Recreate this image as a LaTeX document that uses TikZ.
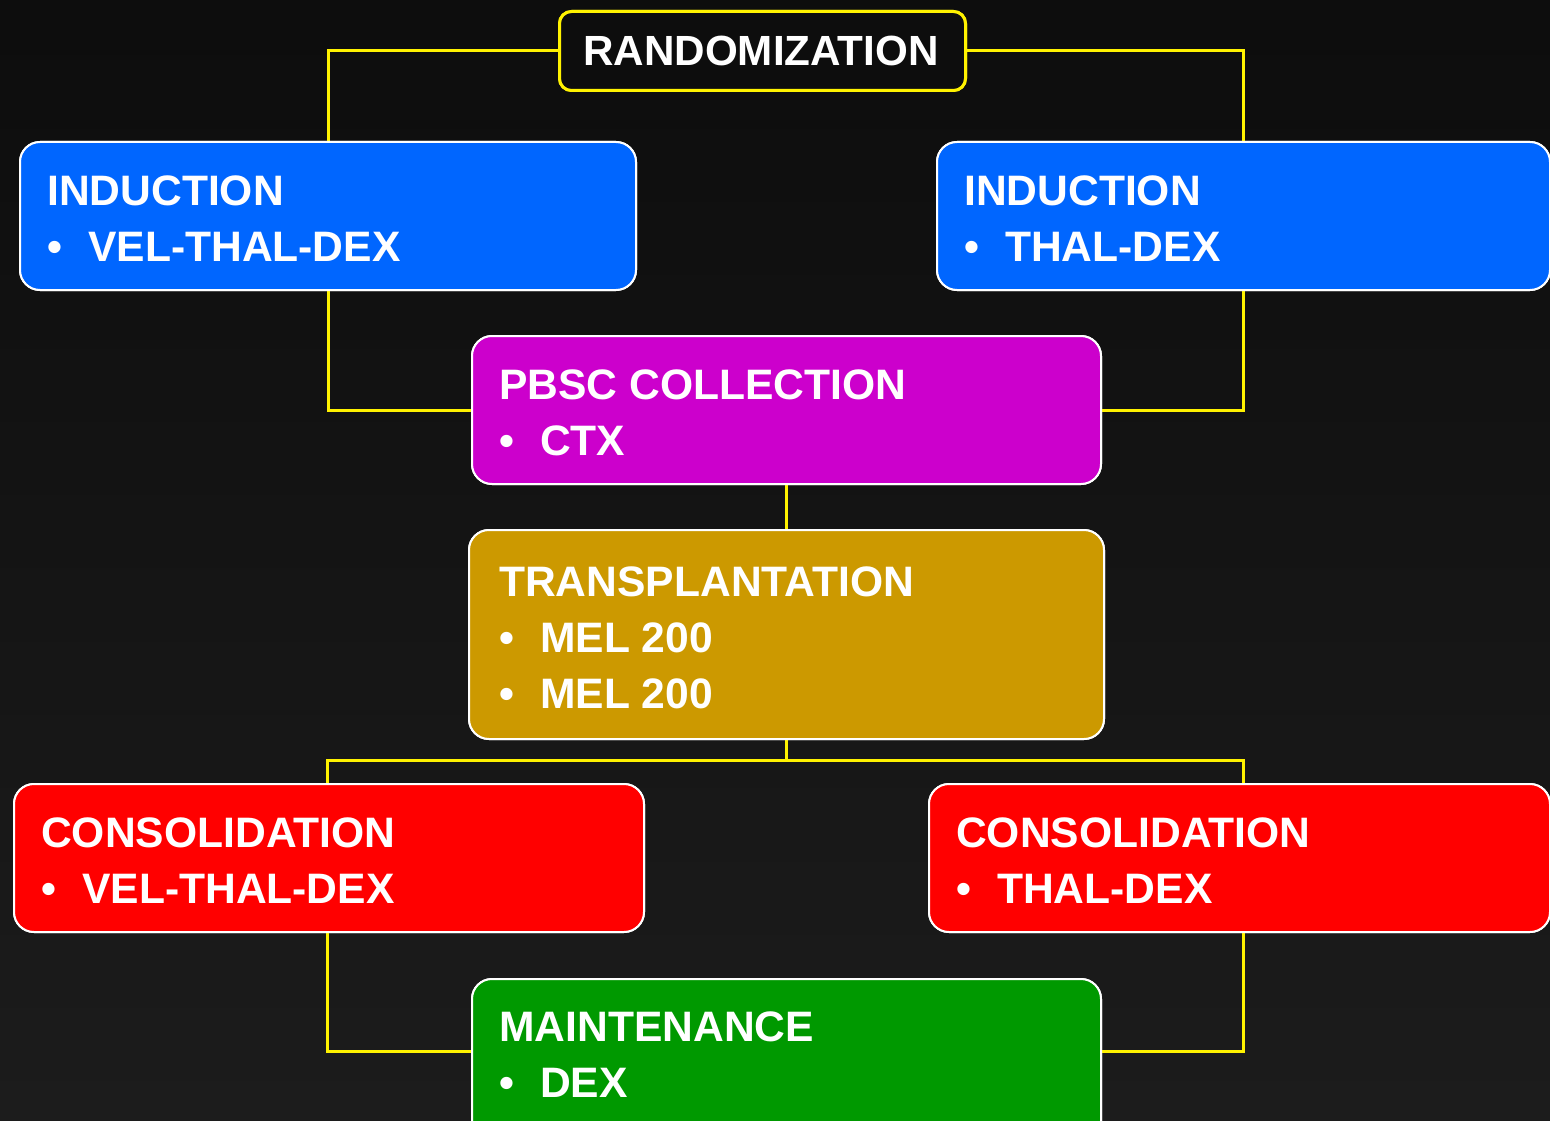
\documentclass[tikz,border=0pt]{standalone}
\usepackage{fontspec}
\setmainfont{Liberation Sans}
\begin{document}
\begin{tikzpicture}[x=1pt,y=-1pt,
  box/.style={draw=white,line width=2pt,rounded corners=20pt,anchor=north west,inner sep=0pt},
  lbl/.style={anchor=base west,inner sep=0pt,text=white,font=\fontsize{42.6}{50}\bfseries\selectfont},
  conn/.style={draw=yellow,line width=3pt}]
\clip (0,0) rectangle (1550,1121);
\shade[top color=black!95,bottom color=black!89] (0,0) rectangle (1550,1121);
\newcommand{\bul}[1]{\makebox[41pt][l]{\textbullet}#1}
\coordinate (jl) at (327,760);
\coordinate (jr) at (1243,760);
\coordinate (mlev) at (0,1051);
% boxes (for anchors)
\node[box,draw=yellow,line width=3pt,rounded corners=12pt,fill=black!95,minimum width=406pt,minimum height=79pt] (rand) at (558,10) {};
\node[box,fill={rgb,255:red,0;green,102;blue,255},minimum width=616pt,minimum height=148pt] (indl) at (19,141) {};
\node[box,fill={rgb,255:red,0;green,102;blue,255},minimum width=613pt,minimum height=148pt] (indr) at (936,141) {};
\node[box,fill={rgb,255:red,204;green,0;blue,204},minimum width=629pt,minimum height=148pt] (pbsc) at (471,335) {};
\node[box,fill={rgb,255:red,204;green,153;blue,0},minimum width=635pt,minimum height=209pt] (tx) at (468,529) {};
\node[box,fill={rgb,255:red,255;green,0;blue,0},minimum width=630pt,minimum height=148pt] (consl) at (13,783) {};
\node[box,fill={rgb,255:red,255;green,0;blue,0},minimum width=621pt,minimum height=148pt] (consr) at (928,783) {};
\node[box,fill={rgb,255:red,0;green,153;blue,0},minimum width=629pt,minimum height=170pt] (maint) at (471,978) {};
% connectors
\draw[conn] (rand.west) -| (indl.north);
\draw[conn] (rand.east) -| (indr.north);
\draw[conn] (indl.south) |- (pbsc.west);
\draw[conn] (indr.south) |- (pbsc.east);
\draw[conn] (pbsc.south) -- (tx.north);
\draw[conn] (tx.south) -- (tx.south |- jl);
\draw[conn] (consl.north -| jl) -- (jl) -- (jr) -- (consr.north -| jr);
\draw[conn] (consl.south -| jl) |- (maint.west |- mlev);
\draw[conn] (consr.south -| jr) |- (maint.east |- mlev);
% redraw boxes over connector ends
\node[box,draw=yellow,line width=3pt,rounded corners=12pt,fill=black!95,minimum width=406pt,minimum height=79pt] at (558,10) {};
\node[box,fill={rgb,255:red,0;green,102;blue,255},minimum width=616pt,minimum height=148pt] at (19,141) {};
\node[box,fill={rgb,255:red,0;green,102;blue,255},minimum width=613pt,minimum height=148pt] at (936,141) {};
\node[box,fill={rgb,255:red,204;green,0;blue,204},minimum width=629pt,minimum height=148pt] at (471,335) {};
\node[box,fill={rgb,255:red,204;green,153;blue,0},minimum width=635pt,minimum height=209pt] at (468,529) {};
\node[box,fill={rgb,255:red,255;green,0;blue,0},minimum width=630pt,minimum height=148pt] at (13,783) {};
\node[box,fill={rgb,255:red,255;green,0;blue,0},minimum width=621pt,minimum height=148pt] at (928,783) {};
\node[box,fill={rgb,255:red,0;green,153;blue,0},minimum width=629pt,minimum height=170pt] at (471,978) {};
% labels
\node[lbl,font=\fontsize{42.2}{50}\bfseries\selectfont] (t0) at (583,66) {RANDOMIZATION};
\node[lbl] (t1) at (47,205) {INDUCTION};
\node[lbl] (t2) at (47,261) {\bul{VEL-THAL-DEX}};
\node[lbl] (t3) at (964,205) {INDUCTION};
\node[lbl] (t4) at (964,261) {\bul{THAL-DEX}};
\node[lbl] (t5) at (499,399) {PBSC COLLECTION};
\node[lbl] (t6) at (499,455) {\bul{CTX}};
\node[lbl] (t7) at (499,596) {TRANSPLANTATION};
\node[lbl] (t8) at (499,652) {\bul{MEL 200}};
\node[lbl] (t9) at (499,708) {\bul{MEL 200}};
\node[lbl] (t10) at (41,847) {CONSOLIDATION};
\node[lbl] (t11) at (41,903) {\bul{VEL-THAL-DEX}};
\node[lbl] (t12) at (956,847) {CONSOLIDATION};
\node[lbl] (t13) at (956,903) {\bul{THAL-DEX}};
\node[lbl] (t14) at (499,1041) {MAINTENANCE};
\node[lbl] (t15) at (499,1097) {\bul{DEX}};
\end{tikzpicture}
\end{document}
